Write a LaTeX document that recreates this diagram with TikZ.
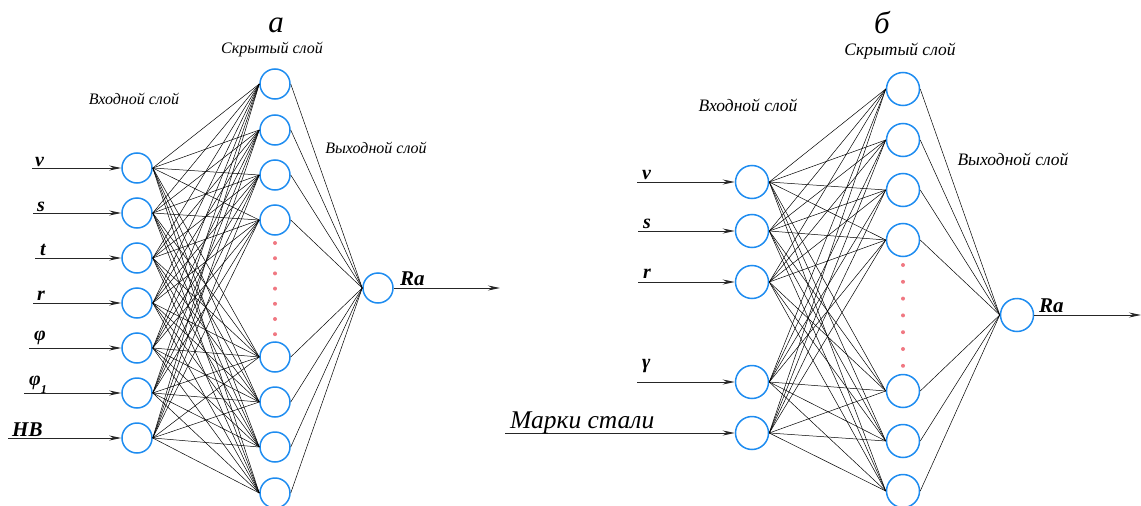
\documentclass[tikz,border=0pt]{standalone}
\usepackage{fontspec}
\setmainfont{Liberation Serif}
\usetikzlibrary{arrows.meta}
\definecolor{neuron}{RGB}{30,140,240}
\definecolor{gapdot}{RGB}{240,120,130}

\begin{document}
\begin{tikzpicture}[x=1pt,y=-1pt,
  neuronA/.style={circle,draw=neuron,line width=1.5pt,minimum size=30pt,inner sep=0pt},
  neuronB/.style={neuronA,minimum size=33pt},
  link/.style={draw=black,line width=0.5pt},
  feed/.style={draw=black!85,line width=1pt,-{Stealth[length=12pt,width=5pt]}},
  var/.style={font=\fontsize{20}{20}\selectfont\bfseries\itshape,inner sep=0pt,anchor=base west},
  bigvar/.style={var,font=\fontsize{21}{21}\selectfont\bfseries\itshape},
  layerA/.style={font=\fontsize{16}{16}\selectfont\itshape,inner sep=0pt},
  layerB/.style={font=\fontsize{17.5}{17.5}\selectfont\itshape,inner sep=0pt},
  panel/.style={font=\fontsize{31}{31}\selectfont\itshape,inner sep=0pt},
  gap/.style={circle,fill=gapdot,inner sep=0pt,minimum size=4pt}
]
\useasboundingbox (0,0) rectangle (1141,506);

% ---------------- network a ----------------
\foreach \y [count=\i] in {168,213,258,303,348,393,438}
  \node[neuronA] (ai\i) at (137,\y) {};
\foreach \y [count=\j] in {84,130,175,220,357,402,447,493}
  \node[neuronA] (ah\j) at (275,\y) {};
\node[neuronA] (ao) at (378,288) {};

\foreach \i in {1,...,7}
  \foreach \j in {1,...,8}
    \draw[link] (ai\i.east) -- (ah\j.west);
\foreach \j in {1,...,8}
  \draw[link] (ah\j.east) -- (ao.west);

\foreach \k in {0,...,6}
  \node[gap] (ad\k) at (275,243+15.2*\k) {};

% inputs of a
\coordinate (as1) at (32,168);
\coordinate (as2) at (33,213);
\coordinate (as3) at (35,258);
\coordinate (as4) at (33,303);
\coordinate (as5) at (29,348);
\coordinate (as6) at (24,393);
\coordinate (as7) at (8,438);
\foreach \i in {1,...,7}
  \draw[feed] (as\i) -- (ai\i.west);

\node[var] (av) at (35,166) {v};
\node[var] (as) at (37,211) {s};
\node[var] (at) at (40,255) {t};
\node[var] (ar) at (37,300) {r};
\node[var] (aphi) at (34,340) {φ};
\node[var] (aphione) at (29,385) {φ\raisebox{-8pt}{\fontsize{12}{12}\selectfont 1}};
\node[bigvar] (ahb) at (12,436) {HB};

% output of a
\coordinate (aend) at (500,288);
\draw[feed] (ao.east) -- (aend);
\node[bigvar] (ara) at (400,285) {Ra};

% captions of a
\node[panel] (atitle) at (276,25) {a};
\node[layerA] (ahid) at (272,50) {Скрытый слой};
\node[layerA] (ain) at (134,99) {Входной слой};
\node[layerA] (aout) at (376,148) {Выходной слой};

% ---------------- network б ----------------
\foreach \y [count=\i] in {182,231,282,382,433}
  \node[neuronB] (bi\i) at (752,\y) {};
\foreach \y [count=\j] in {89,140,190,240,391,441,491}
  \node[neuronB] (bh\j) at (903,\y) {};
\node[neuronB] (bo) at (1017,315) {};

\foreach \i in {1,...,5}
  \foreach \j in {1,...,7}
    \draw[link] (bi\i.east) -- (bh\j.west);
\foreach \j in {1,...,7}
  \draw[link] (bh\j.east) -- (bo.west);

\foreach \k in {0,...,6}
  \node[gap] (bd\k) at (903,265+16.8*\k) {};

% inputs of б
\coordinate (bs1) at (637,182);
\coordinate (bs2) at (638,231);
\coordinate (bs3) at (638,282);
\coordinate (bs4) at (637,382);
\coordinate (bs5) at (505,433);
\foreach \i in {1,...,5}
  \draw[feed] (bs\i) -- (bi\i.west);

\node[var] (bv) at (642,179) {v};
\node[var] (bsv) at (643,228) {s};
\node[var] (br) at (643,278) {r};
\node[var] (bgamma) at (642,368) {γ};
\node[font=\fontsize{25.5}{25.5}\selectfont\itshape,inner sep=0pt,anchor=base west] (bsteel) at (510,428) {Марки стали};

% output of б
\coordinate (bend) at (1141,315);
\draw[feed] (bo.east) -- (bend);
\node[bigvar] (bra) at (1039,312) {Ra};

% captions of б
\node[panel] (btitle) at (882,23) {б};
\node[layerB] (bhid) at (900,51) {Скрытый слой};
\node[layerB] (bin) at (748,105) {Входной слой};
\node[layerB] (bout) at (1013,159) {Выходной слой};
\end{tikzpicture}
\end{document}
